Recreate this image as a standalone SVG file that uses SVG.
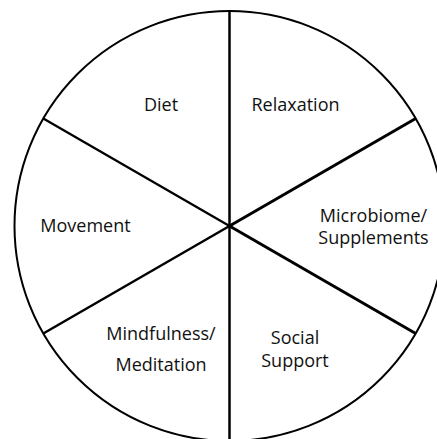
<svg xmlns="http://www.w3.org/2000/svg" width="437" height="439" viewBox="0 0 437 439">
<style>
.lbl{font-family:"Open Sans","Noto Sans",sans-serif;font-size:18px;fill:#111;text-anchor:middle}
.ln{stroke:#000;fill:none;stroke-linecap:butt}
</style>
<rect width="437" height="439" fill="#fff"/>
<g id="wheel">
<circle class="ln" cx="229.5" cy="226" r="215" stroke-width="2"/>
</g>
<g id="connectors">
<line class="ln" x1="229.5" y1="11" x2="229.5" y2="441" stroke-width="2.5"/>
<line class="ln" x1="229.5" y1="226" x2="415.7" y2="118.5" stroke-width="3"/>
<line class="ln" x1="229.5" y1="226" x2="415.7" y2="333.5" stroke-width="3"/>
<line class="ln" x1="229.5" y1="226" x2="43.3" y2="118.5" stroke-width="2.3"/>
<line class="ln" x1="229.5" y1="226" x2="43.3" y2="333.5" stroke-width="2.5"/>
</g>
<g id="diet"><text class="lbl" x="161" y="111">Diet</text></g>
<g id="relaxation"><text class="lbl" x="295.5" y="111">Relaxation</text></g>
<g id="microbiome"><text class="lbl" x="373.5" y="221.5">Microbiome/</text><text class="lbl" x="373.5" y="243.5">Supplements</text></g>
<g id="social"><text class="lbl" x="295" y="343.5">Social</text><text class="lbl" x="295" y="366.5">Support</text></g>
<g id="mindfulness"><text class="lbl" x="161" y="340">Mindfulness/</text><text class="lbl" x="161" y="371">Meditation</text></g>
<g id="movement"><text class="lbl" x="85.5" y="231.5">Movement</text></g>
</svg>
